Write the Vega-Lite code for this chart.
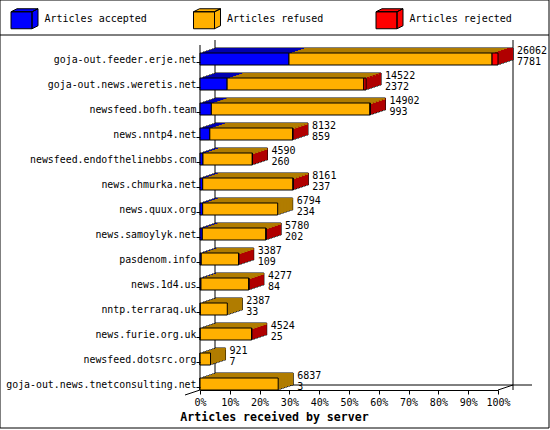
{
  "$schema": "https://vega.github.io/schema/vega-lite/v6.json",
  "description": "News server article counts, 3D-looking stacked bars scaled to the busiest server.",
  "width": 298,
  "height": 345,
  "autosize": "none",
  "padding": {"left": 200, "top": 45, "right": 52, "bottom": 40},
  "background": "white",
  "datasets": {
    "segments": [
      {"server": "goja-out.feeder.erje.net", "status": "Articles accepted", "articles": 7781},
      {"server": "goja-out.feeder.erje.net", "status": "Articles refused", "articles": 17761},
      {"server": "goja-out.feeder.erje.net", "status": "Articles rejected", "articles": 520},
      {"server": "goja-out.news.weretis.net", "status": "Articles accepted", "articles": 2372},
      {"server": "goja-out.news.weretis.net", "status": "Articles refused", "articles": 11950},
      {"server": "goja-out.news.weretis.net", "status": "Articles rejected", "articles": 200},
      {"server": "newsfeed.bofh.team", "status": "Articles accepted", "articles": 993},
      {"server": "newsfeed.bofh.team", "status": "Articles refused", "articles": 13869},
      {"server": "newsfeed.bofh.team", "status": "Articles rejected", "articles": 40},
      {"server": "news.nntp4.net", "status": "Articles accepted", "articles": 859},
      {"server": "news.nntp4.net", "status": "Articles refused", "articles": 7243},
      {"server": "news.nntp4.net", "status": "Articles rejected", "articles": 30},
      {"server": "newsfeed.endofthelinebbs.com", "status": "Articles accepted", "articles": 260},
      {"server": "newsfeed.endofthelinebbs.com", "status": "Articles refused", "articles": 4315},
      {"server": "newsfeed.endofthelinebbs.com", "status": "Articles rejected", "articles": 15},
      {"server": "news.chmurka.net", "status": "Articles accepted", "articles": 237},
      {"server": "news.chmurka.net", "status": "Articles refused", "articles": 7894},
      {"server": "news.chmurka.net", "status": "Articles rejected", "articles": 30},
      {"server": "news.quux.org", "status": "Articles accepted", "articles": 234},
      {"server": "news.quux.org", "status": "Articles refused", "articles": 6560},
      {"server": "news.samoylyk.net", "status": "Articles accepted", "articles": 202},
      {"server": "news.samoylyk.net", "status": "Articles refused", "articles": 5563},
      {"server": "news.samoylyk.net", "status": "Articles rejected", "articles": 15},
      {"server": "pasdenom.info", "status": "Articles accepted", "articles": 109},
      {"server": "pasdenom.info", "status": "Articles refused", "articles": 3268},
      {"server": "pasdenom.info", "status": "Articles rejected", "articles": 10},
      {"server": "news.1d4.us", "status": "Articles accepted", "articles": 84},
      {"server": "news.1d4.us", "status": "Articles refused", "articles": 4183},
      {"server": "news.1d4.us", "status": "Articles rejected", "articles": 10},
      {"server": "nntp.terraraq.uk", "status": "Articles accepted", "articles": 33},
      {"server": "nntp.terraraq.uk", "status": "Articles refused", "articles": 2354},
      {"server": "news.furie.org.uk", "status": "Articles accepted", "articles": 25},
      {"server": "news.furie.org.uk", "status": "Articles refused", "articles": 4489},
      {"server": "news.furie.org.uk", "status": "Articles rejected", "articles": 10},
      {"server": "newsfeed.dotsrc.org", "status": "Articles accepted", "articles": 7},
      {"server": "newsfeed.dotsrc.org", "status": "Articles refused", "articles": 914},
      {"server": "goja-out.news.tnetconsulting.net", "status": "Articles accepted", "articles": 3},
      {"server": "goja-out.news.tnetconsulting.net", "status": "Articles refused", "articles": 6834}
    ],
    "servers": [
      {"server": "goja-out.feeder.erje.net", "received": 26062, "accepted": 7781, "last": "Articles rejected"},
      {"server": "goja-out.news.weretis.net", "received": 14522, "accepted": 2372, "last": "Articles rejected"},
      {"server": "newsfeed.bofh.team", "received": 14902, "accepted": 993, "last": "Articles rejected"},
      {"server": "news.nntp4.net", "received": 8132, "accepted": 859, "last": "Articles rejected"},
      {"server": "newsfeed.endofthelinebbs.com", "received": 4590, "accepted": 260, "last": "Articles rejected"},
      {"server": "news.chmurka.net", "received": 8161, "accepted": 237, "last": "Articles rejected"},
      {"server": "news.quux.org", "received": 6794, "accepted": 234, "last": "Articles refused"},
      {"server": "news.samoylyk.net", "received": 5780, "accepted": 202, "last": "Articles rejected"},
      {"server": "pasdenom.info", "received": 3387, "accepted": 109, "last": "Articles rejected"},
      {"server": "news.1d4.us", "received": 4277, "accepted": 84, "last": "Articles rejected"},
      {"server": "nntp.terraraq.uk", "received": 2387, "accepted": 33, "last": "Articles refused"},
      {"server": "news.furie.org.uk", "received": 4524, "accepted": 25, "last": "Articles rejected"},
      {"server": "newsfeed.dotsrc.org", "received": 921, "accepted": 7, "last": "Articles refused"},
      {"server": "goja-out.news.tnetconsulting.net", "received": 6837, "accepted": 3, "last": "Articles refused"}
    ]
  },
  "encoding": {
    "x": {
      "type": "quantitative",
      "title": "Articles received by server",
      "scale": {"domain": [0, 26062], "nice": false},
      "axis": {
        "values": [0, 2606.2, 5212.4, 7818.6, 10424.8, 13031, 15637.2, 18243.4, 20849.6, 23455.8, 26062],
        "labelExpr": "format(datum.value / 26062, '.0%')",
        "labelOverlap": false,
        "labelFlush": false,
        "grid": false,
        "tickSize": 4,
        "labelPadding": 3,
        "titleX": 74,
        "titleY": 30,
        "titleBaseline": "alphabetic",
        "titleFontWeight": "bold",
        "titleFontSize": 11.6
      }
    }
  },
  "layer": [
    {
      "data": {"values": [{"a": 0}]},
      "layer": [
        {"mark": {"type": "rect", "fill": "transparent", "stroke": "black", "xOffset": -200, "x2Offset": 51, "yOffset": -59, "y2Offset": 44}, "encoding": {"x": {"datum": 0}, "x2": {"datum": 26062}, "y": {"datum": "goja-out.feeder.erje.net", "type": "nominal", "title": null}, "y2": {"datum": "goja-out.news.tnetconsulting.net"}}},
        {"mark": {"type": "rule", "color": "black", "xOffset": -200, "x2Offset": 51, "yOffset": -24}, "encoding": {"x": {"datum": 0}, "x2": {"datum": 26062}, "y": {"datum": "goja-out.feeder.erje.net", "type": "nominal", "title": null}}},
        {"mark": {"type": "rule", "color": "black", "xOffset": 15, "yOffset": -5, "y2Offset": -5}, "encoding": {"x": {"datum": 0}}},
        {"mark": {"type": "rule", "color": "black", "xOffset": 15, "yOffset": -5, "y2Offset": -5}, "encoding": {"x": {"datum": 26062}}},
        {"mark": {"type": "rule", "color": "black"}, "encoding": {"x": {"datum": 0}}},
        {"mark": {"type": "rule", "color": "black", "xOffset": 15, "x2Offset": 34, "yOffset": 1}, "encoding": {"x": {"datum": 0}, "x2": {"datum": 26062}, "y": {"datum": "goja-out.news.tnetconsulting.net", "type": "nominal", "title": null}}},
        {"mark": {"type": "rule", "color": "black", "xOffset": 0, "x2Offset": 15, "yOffset": 6, "y2Offset": 1}, "encoding": {"x": {"datum": 26062}, "x2": {"datum": 26062}, "y": {"datum": "goja-out.news.tnetconsulting.net", "type": "nominal", "title": null}, "y2": {"datum": "goja-out.news.tnetconsulting.net"}}},
        {"mark": {"type": "rule", "color": "black", "xOffset": -15, "x2Offset": 0, "yOffset": 11, "y2Offset": 6}, "encoding": {"x": {"datum": 0}, "x2": {"datum": 0}, "y": {"datum": "goja-out.news.tnetconsulting.net", "type": "nominal", "title": null}, "y2": {"datum": "goja-out.news.tnetconsulting.net"}}}
      ]
    },
    {
      "encoding": {
        "y": {
          "field": "server",
          "type": "nominal",
          "title": null,
          "scale": {
            "domain": ["goja-out.feeder.erje.net", "goja-out.news.weretis.net", "newsfeed.bofh.team", "news.nntp4.net", "newsfeed.endofthelinebbs.com", "news.chmurka.net", "news.quux.org", "news.samoylyk.net", "pasdenom.info", "news.1d4.us", "nntp.terraraq.uk", "news.furie.org.uk", "newsfeed.dotsrc.org", "goja-out.news.tnetconsulting.net"],
            "range": [8, 345],
            "paddingInner": 0.52,
            "paddingOuter": 0
          },
          "axis": {"domain": false, "tickSize": 4, "tickOffset": 3, "labelOffset": -3, "labelPadding": 0, "labelLimit": 200, "labelFontSize": 9.9}
        }
      },
      "layer": [
        {
          "data": {"name": "servers"},
          "encoding": {"x": {"field": "received"}, "x2": {"datum": 0}},
          "layer": [
            {"mark": {"type": "bar", "fill": "black", "stroke": "black", "xOffset": 15, "x2Offset": 15, "yOffset": -5}},
            {"mark": {"type": "bar", "fill": "black", "stroke": "black", "xOffset": 12, "x2Offset": 12, "yOffset": -4}},
            {"mark": {"type": "bar", "fill": "black", "stroke": "black", "xOffset": 9, "x2Offset": 9, "yOffset": -3}},
            {"mark": {"type": "bar", "fill": "black", "stroke": "black", "xOffset": 6, "x2Offset": 6, "yOffset": -2}},
            {"mark": {"type": "bar", "fill": "black", "stroke": "black", "xOffset": 3, "x2Offset": 3, "yOffset": -1}}
          ]
        },
        {
          "data": {"name": "servers"},
          "encoding": {
            "x": {"field": "received"},
            "x2": {"field": "received"},
            "color": {"field": "last", "type": "nominal", "legend": null, "scale": {"domain": ["Articles rejected", "Articles refused", "Articles accepted"], "range": ["#b00000", "#b07c00", "#0000b0"]}}
          },
          "layer": [
            {"mark": {"type": "bar", "xOffset": 11, "x2Offset": 15, "yOffset": -5}},
            {"mark": {"type": "bar", "xOffset": 8, "x2Offset": 12, "yOffset": -4}},
            {"mark": {"type": "bar", "xOffset": 5, "x2Offset": 9, "yOffset": -3}},
            {"mark": {"type": "bar", "xOffset": 2, "x2Offset": 6, "yOffset": -2}},
            {"mark": {"type": "bar", "xOffset": -1, "x2Offset": 3, "yOffset": -1}}
          ]
        },
        {
          "data": {"name": "segments"},
          "encoding": {
            "x": {"field": "articles", "stack": "zero"},
            "color": {"field": "status", "type": "nominal", "legend": null},
            "order": {"field": "status"}
          },
          "layer": [
            {"mark": {"type": "bar", "height": 2, "xOffset": 15, "x2Offset": 15, "yOffset": -10}},
            {"mark": {"type": "bar", "height": 2, "xOffset": 12, "x2Offset": 12, "yOffset": -9}},
            {"mark": {"type": "bar", "height": 2, "xOffset": 9, "x2Offset": 9, "yOffset": -8}},
            {"mark": {"type": "bar", "height": 2, "xOffset": 6, "x2Offset": 6, "yOffset": -7}},
            {"mark": {"type": "bar", "height": 2, "xOffset": 3, "x2Offset": 3, "yOffset": -6}}
          ]
        },
        {
          "data": {"name": "segments"},
          "mark": {"type": "bar", "stroke": "black", "strokeWidth": 1},
          "encoding": {
            "x": {"field": "articles", "stack": "zero"},
            "order": {"field": "status"},
            "fill": {
              "field": "status",
              "type": "nominal",
              "title": null,
              "scale": {"domain": ["Articles accepted", "Articles refused", "Articles rejected"], "range": ["#0000ff", "#ffb000", "#ff0000"]},
              "legend": {
                "orient": "none",
                "legendX": -186,
                "legendY": -37,
                "direction": "horizontal",
                "columns": 3,
                "gridAlign": "all",
                "symbolType": "M-1.35,-0.7h2.1v1.7h-2.1zM-1.35,-0.7l0.6,-0.3h2.1l-0.6,0.3zM0.75,-0.7l0.6,-0.3v1.7l-0.6,0.3z",
                "symbolSize": 400,
                "symbolStrokeWidth": 1,
                "columnPadding": 44.5,
                "labelOffset": 9.5,
                "encode": {
                  "labels": {"update": {"dy": {"value": 1.5}}},
                  "symbols": {
                    "update": {
                      "stroke": {"value": "black"},
                      "fill": [
                        {"test": "datum.value === 'Articles accepted'", "value": {"gradient": "linear", "x1": 0, "x2": 1, "y1": 0, "y2": 0, "stops": [{"offset": 0.78, "color": "#0000ff"}, {"offset": 0.78, "color": "#0000b0"}]}},
                        {"test": "datum.value === 'Articles refused'", "value": {"gradient": "linear", "x1": 0, "x2": 1, "y1": 0, "y2": 0, "stops": [{"offset": 0.78, "color": "#ffb000"}, {"offset": 0.78, "color": "#b07c00"}]}},
                        {"value": {"gradient": "linear", "x1": 0, "x2": 1, "y1": 0, "y2": 0, "stops": [{"offset": 0.78, "color": "#ff0000"}, {"offset": 0.78, "color": "#b00000"}]}}
                      ]
                    }
                  }
                }
              }
            }
          }
        },
        {
          "data": {"name": "servers"},
          "encoding": {"x": {"field": "received"}},
          "layer": [
            {"mark": {"type": "text", "align": "left", "dx": 19, "dy": -8}, "encoding": {"text": {"field": "received", "type": "quantitative", "format": "d"}}},
            {"mark": {"type": "text", "align": "left", "dx": 19, "dy": 3}, "encoding": {"text": {"field": "accepted", "type": "quantitative", "format": "d"}}}
          ]
        }
      ]
    }
  ],
  "config": {
    "view": {"stroke": null},
    "font": "DejaVu Sans Mono",
    "axis": {"labelColor": "black", "titleColor": "black", "domainColor": "black", "tickColor": "black", "labelFontSize": 10, "labelFont": "DejaVu Sans Mono", "titleFont": "DejaVu Sans Mono"},
    "legend": {"labelFontSize": 10, "labelColor": "black", "labelFont": "DejaVu Sans Mono"},
    "text": {"fontSize": 10, "font": "DejaVu Sans Mono", "color": "black"}
  }
}
